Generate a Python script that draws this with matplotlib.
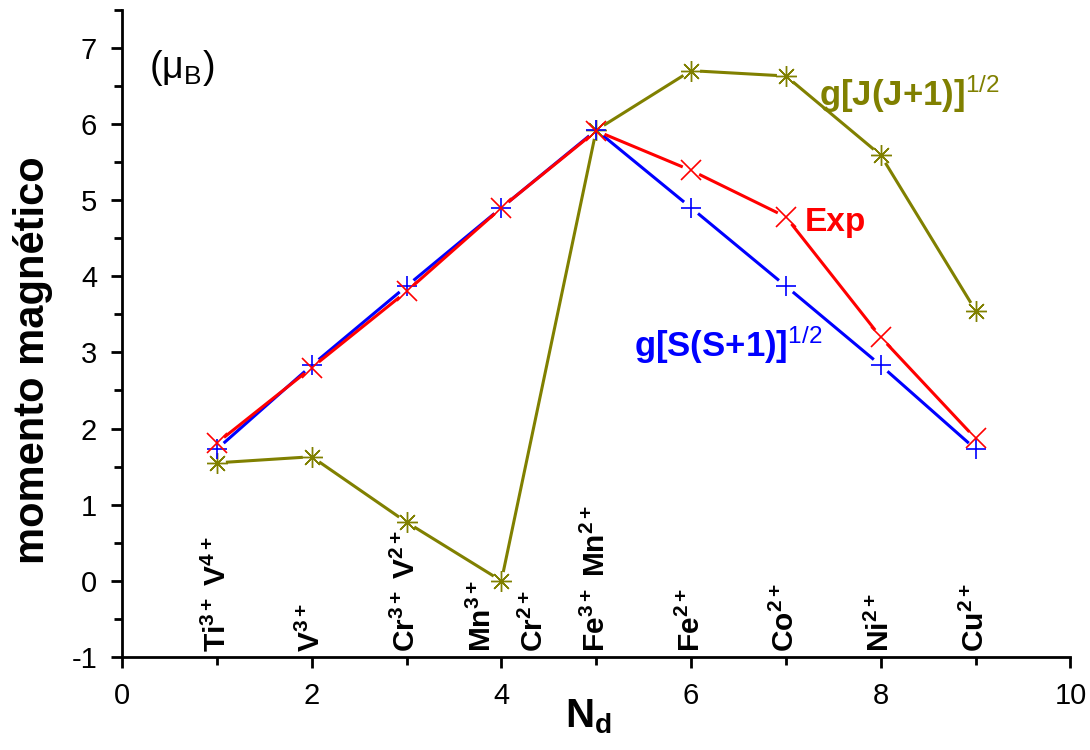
import numpy as np
import matplotlib
matplotlib.use("Agg")
import matplotlib.pyplot as plt
from matplotlib.ticker import MultipleLocator

plt.rcParams['font.family'] = ['Liberation Sans', 'DejaVu Sans']
plt.rcParams['mathtext.fontset'] = 'custom'
plt.rcParams['mathtext.rm'] = 'Liberation Sans'
plt.rcParams['mathtext.bf'] = 'Liberation Sans:bold'
plt.rcParams['mathtext.it'] = 'Liberation Sans:italic'
plt.rcParams['axes.unicode_minus'] = False

# number of d electrons
nd = [1, 2, 3, 4, 5, 6, 7, 8, 9]
exp_moment = [1.81, 2.80, 3.80, 4.90, 5.91, 5.39, 4.78, 3.20, 1.87]
spin_moment = [1.73, 2.83, 3.87, 4.90, 5.92, 4.90, 3.87, 2.83, 1.73]
j_moment = [1.55, 1.63, 0.77, 0.0, 5.92, 6.70, 6.63, 5.59, 3.55]

# ion labels along the bottom
ion_x = [1, 2, 3, 3.8, 4.35, 5, 6, 7, 8, 9]
ion_labels = [r'$\mathbf{Ti^{3+}\ V^{4+}}$', r'$\mathbf{V^{3+}}$', r'$\mathbf{Cr^{3+}\ V^{2+}}$',
              r'$\mathbf{Mn^{3+}}$', r'$\mathbf{Cr^{2+}}$', r'$\mathbf{Fe^{3+}\ Mn^{2+}}$',
              r'$\mathbf{Fe^{2+}}$', r'$\mathbf{Co^{2+}}$', r'$\mathbf{Ni^{2+}}$',
              r'$\mathbf{Cu^{2+}}$']

olive = '#808000'


def gap_line(ax, xs, ys, gap, **kw):
    # origin-style line: segments stop short of the markers
    pts = ax.transData.transform(np.column_stack([xs, ys]))
    inv = ax.transData.inverted()
    for p0, p1 in zip(pts[:-1], pts[1:]):
        u = (p1 - p0) / np.hypot(*(p1 - p0))
        seg = inv.transform([p0 + u * gap, p1 - u * gap])
        ax.plot(seg[:, 0], seg[:, 1], solid_capstyle='butt', **kw)


fig = plt.figure(figsize=(10.9, 7.5), dpi=100)
ax = fig.add_axes([0.112, 0.124, 0.870, 0.863])
ax.set_xlim(0, 10)
ax.set_ylim(-1, 7.5)

gap_line(ax, nd, j_moment, 9, color=olive, lw=2.2, zorder=2)
gap_line(ax, nd, spin_moment, 9, color='blue', lw=2.2, zorder=3)
gap_line(ax, nd, exp_moment, 9, color='red', lw=2.2, zorder=4)
ax.plot(nd, j_moment, ls='none', color=olive, marker=(8, 2, 0), ms=15, mew=1.0, zorder=2)
ax.plot(nd, spin_moment, ls='none', color='blue', marker='+', ms=14, mew=1.2, zorder=3)
ax.plot(nd, exp_moment, ls='none', color='red', marker='x', ms=14, mew=1.2, zorder=4)

ax.xaxis.set_major_locator(MultipleLocator(2))
ax.xaxis.set_minor_locator(MultipleLocator(1))
ax.yaxis.set_major_locator(MultipleLocator(1))
ax.yaxis.set_minor_locator(MultipleLocator(0.5))
ax.tick_params(which='both', direction='out', width=2, labelsize=21, pad=10)
ax.tick_params(which='major', length=8)
ax.tick_params(which='minor', length=6)
for s in ['top', 'right']:
    ax.spines[s].set_visible(False)
for s in ['left', 'bottom']:
    ax.spines[s].set_linewidth(2)

ax.set_xlabel(r'$\mathbf{N_d}$', fontsize=29)
ax.xaxis.set_label_coords(0.492, -0.062)
ax.set_ylabel('momento magnético', fontsize=30, fontweight='bold', va='center')
ax.yaxis.set_label_coords(-0.094, 0.459)

for x, lab in zip(ion_x, ion_labels):
    ax.text(x, -0.93, lab, rotation=90, ha='center', va='bottom', fontsize=21.5)

ax.text(0.28, 6.73, r'($\mathrm{\mu}_{\mathrm{B}}$)', fontsize=27, ha='left', va='center')
ax.text(7.35, 6.4, r'g[J(J+1)]$^{1/2}$', fontsize=25, fontweight='bold',
        color=olive, ha='left', va='center')
ax.text(7.2, 4.7, 'Exp', fontsize=24, fontweight='bold', color='red',
        ha='left', va='center')
ax.text(5.4, 3.1, r'g[S(S+1)]$^{1/2}$', fontsize=25, fontweight='bold',
        color='blue', ha='left', va='center')

fig.savefig('out.png', dpi=100)
